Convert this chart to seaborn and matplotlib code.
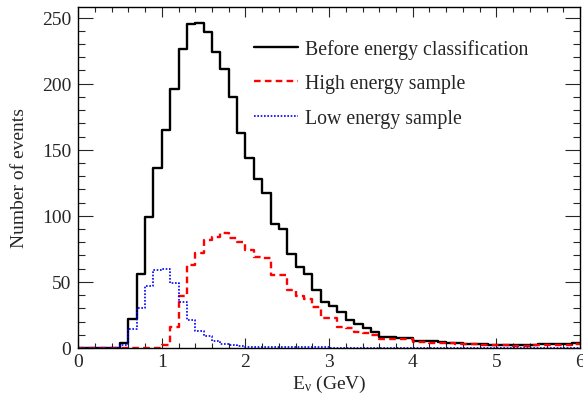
import matplotlib
matplotlib.use('Agg')
import matplotlib.pyplot as plt
from matplotlib.ticker import MultipleLocator
import seaborn as sns
import numpy as np

# bin edges (GeV), 0.1 GeV bins
edges = [round(0.1 * i, 1) for i in range(61)]
centers = [round(0.1 * i + 0.05, 2) for i in range(60)]

before = [0, 0, 0, 0, 0, 4, 22, 56, 99, 136,
          165, 196, 226, 245, 246, 239, 224, 211, 190, 163,
          144, 128, 117, 94, 90, 71, 61, 56, 44, 35,
          32, 27, 21, 18, 15, 12, 8.6, 8, 7.6, 7.5,
          5.5, 5, 5, 4.3, 4, 4, 3.3, 3.3, 2.8, 2.3,
          2.3, 2.5, 2.3, 2.5, 2.5, 3, 3, 3, 2.8, 3.5]
high = [0, 0, 0, 0, 0, 0, 0, 0, 0, 0,
        2, 16, 39, 63, 72, 82, 84, 87, 83, 80,
        74, 69, 68, 55, 55, 44, 39, 37, 31, 23,
        23, 16, 15, 12, 11, 10, 7, 7, 6.5, 6.5,
        4.3, 4.3, 4, 3.5, 3.5, 3.3, 3, 3, 2.5, 2.5,
        2, 2, 1.8, 1.8, 2, 2.5, 2.5, 2.5, 2.3, 2.8]
low = [0, 0, 0, 0, 0, 2, 14, 30, 47, 59,
       60, 49, 35, 21, 13, 9, 5.5, 3, 2, 1.5,
       1, 1, 0.8, 0.8, 0.6, 0.6, 0.5, 0.5, 0.4, 0.4,
       0.3, 0.3, 0.3, 0.2, 0.2, 0.2, 0.2, 0.1, 0.1, 0.1,
       0.1, 0.1, 0.1, 0.1, 0.1, 0.1, 0.1, 0.1, 0.1, 0.1,
       0.1, 0.1, 0.1, 0.1, 0.1, 0.1, 0.1, 0.1, 0.1, 0.1]

labels = ['Before energy classification', 'High energy sample', 'Low energy sample']

sns.set_style('ticks')
plt.rcParams['font.family'] = ['Liberation Serif', 'DejaVu Serif']
plt.rcParams['mathtext.fontset'] = 'custom'
plt.rcParams['mathtext.rm'] = 'Liberation Serif'
plt.rcParams['mathtext.it'] = 'Liberation Serif:italic'

fig = plt.figure(figsize=(5.83, 4.02), dpi=100)
ax = fig.add_axes([0.134, 0.132, 0.861, 0.848])

sns.histplot(x=centers, weights=before, bins=edges, element='step', fill=False,
             color='black', linewidth=1.7, label=labels[0], ax=ax)
sns.histplot(x=centers, weights=high, bins=edges, element='step', fill=False,
             color='red', linewidth=1.7, linestyle=(0, (2.8, 1.8)), label=labels[1], ax=ax)
sns.histplot(x=centers, weights=low, bins=edges, element='step', fill=False,
             color='blue', linewidth=1.2, linestyle=(0, (1, 1)), label=labels[2], ax=ax)

ax.set_xlim(0, 6)
ax.set_ylim(0, 258)
ax.set_xlabel('E$_\\mathrm{ν}$ (GeV)', fontsize=14, labelpad=2)
ax.set_ylabel('Number of events', fontsize=14, labelpad=10)

ax.xaxis.set_major_locator(MultipleLocator(1))
ax.xaxis.set_minor_locator(MultipleLocator(0.2))
ax.yaxis.set_major_locator(MultipleLocator(50))
ax.yaxis.set_minor_locator(MultipleLocator(10))
ax.tick_params(which='both', direction='in', top=True, right=True, labelsize=14, width=0.8)
ax.tick_params(axis='x', which='major', length=7.5, pad=4)
ax.tick_params(axis='x', which='minor', length=3.8)
ax.tick_params(axis='y', which='major', length=10.5, pad=5)
ax.tick_params(axis='y', which='minor', length=5)
for s in ax.spines.values():
    s.set_linewidth(1.0)
    s.set_color('black')

ax.legend(loc='upper left', bbox_to_anchor=(0.35, 0.907), frameon=False, fontsize=14.3,
          handlelength=2.2, handletextpad=0.4, labelspacing=0.78,
          borderpad=0, borderaxespad=0)

fig.savefig('out.png', dpi=100)
